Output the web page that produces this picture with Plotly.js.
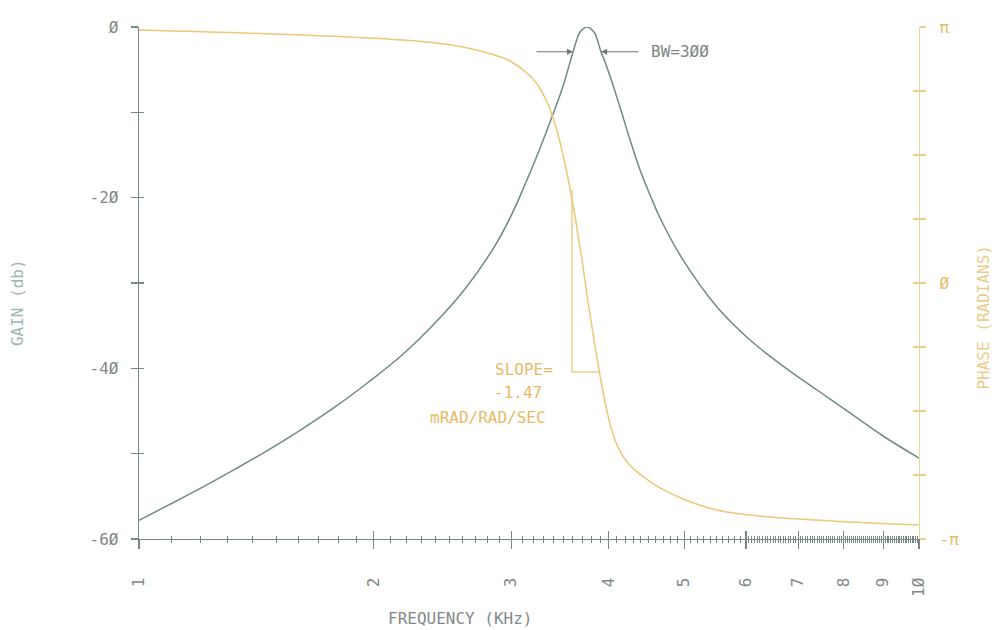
<!DOCTYPE html>
<html>
<head>
<meta charset="utf-8">
<script src="https://cdn.plot.ly/plotly-3.0.1.min.js"></script>
<style>html,body{margin:0;padding:0;background:#fff;}#chart{width:994px;height:630px;}</style>
</head>
<body>
<div id="chart"></div>
<script>
// ---- data ----
const gainFreq = [1.0, 1.089, 1.205, 1.328, 1.464, 1.618, 1.784, 1.966, 2.174, 2.396, 2.618, 2.843, 2.989, 3.144, 3.267, 3.395, 3.497, 3.601, 3.644, 3.677, 3.753, 3.831, 3.866, 3.912, 3.958, 4.04, 4.136, 4.262, 4.389, 4.521, 4.656, 4.983, 5.508, 6.073, 6.694, 7.402, 8.156, 8.993, 10.0];
const gainDb   = [-57.8, -56.06, -53.96, -51.82, -49.58, -47.11, -44.52, -41.66, -38.44, -34.69, -30.70, -26.02, -22.4, -17.9, -14.2, -10.20, -6.91, -2.93, -1.41, -0.59, 0.0, -0.59, -1.41, -2.93, -4.10, -6.45, -9.38, -13.24, -16.76, -19.69, -22.38, -27.30, -32.81, -36.68, -39.73, -42.54, -45.23, -47.93, -50.51];

const phaseFreq = [1.0, 1.618, 2.174, 2.432, 2.657, 2.843, 2.989, 3.144, 3.238, 3.335, 3.395, 3.465, 3.569, 3.677, 3.787, 3.899, 3.958, 4.017, 4.077, 4.136, 4.223, 4.350, 4.480, 4.656, 4.983, 5.508, 6.073, 6.694, 8.156, 10.0];
const phaseRad  = [3.105, 3.043, 2.982, 2.939, 2.878, 2.804, 2.724, 2.577, 2.442, 2.221, 2.025, 1.730, 1.166, 0.430, -0.392, -1.129, -1.460, -1.730, -1.926, -2.061, -2.196, -2.318, -2.411, -2.515, -2.650, -2.786, -2.847, -2.884, -2.933, -2.970];

// axis ticks
const xMajorTicks = [1, 2, 3, 4, 5, 6, 7, 8, 9, 10];
const xMajorText  = ['1', '2', '3', '4', '5', '6', '7', '8', '9', '1Ø'];
const xMinorStepLow = 0.1;   // 100 Hz steps below 6 kHz
const xMinorStepHigh = 0.05; // 50 Hz steps from 6 kHz
const gainTicks = [0, -10, -20, -30, -40, -50, -60];
const gainText  = ['Ø', '', '-2Ø', '', '-4Ø', '', '-6Ø'];
const phaseTicks = [Math.PI, 0.75*Math.PI, 0.5*Math.PI, 0.25*Math.PI, 0, -0.25*Math.PI, -0.5*Math.PI, -0.75*Math.PI, -Math.PI];
const phaseText  = ['π', '', '', '', 'Ø', '', '', '', '-π'];

// annotation values
const bwLow = 3.601, bwHigh = 3.912, bwLevel = -2.9;
const slopeF0 = 3.590, slopeF1 = 3.899, slopeTop = 1.141, slopeBottom = -1.092;

// ---- build minor ticks ----
const xMinorTicks = [];
for (let d = 1; d < 10; d++) {
  const step = d < 6 ? xMinorStepLow : xMinorStepHigh;
  const n = Math.round(1 / step);
  for (let k = 1; k < n; k++) xMinorTicks.push(+(d + k * step).toFixed(3));
}

const gray = 'rgb(118,136,132)';
const grayText = 'rgb(128,136,134)';
const yel = 'rgb(236,200,120)';
const yelText = 'rgb(232,186,100)';
const mono = 'DejaVu Sans Mono, monospace';

const traces = [
  {x: gainFreq, y: gainDb, xaxis: 'x', yaxis: 'y', mode: 'lines',
   line: {color: 'rgb(112,138,134)', width: 1.5, shape: 'spline', smoothing: 1.1}, hoverinfo: 'skip'},
  {x: phaseFreq, y: phaseRad, xaxis: 'x', yaxis: 'y2', mode: 'lines',
   line: {color: yel, width: 1.5, shape: 'spline', smoothing: 1.1}, hoverinfo: 'skip'},
  // carriers for the duplicate (inside-tick) axes so ticks cross the axis lines
  {x: [1], y: [-100], xaxis: 'x2', yaxis: 'y', mode: 'markers', marker: {opacity: 0}, hoverinfo: 'skip'},
  {x: [1], y: [-100], xaxis: 'x', yaxis: 'y3', mode: 'markers', marker: {opacity: 0}, hoverinfo: 'skip'},
  {x: [1], y: [-100], xaxis: 'x', yaxis: 'y4', mode: 'markers', marker: {opacity: 0}, hoverinfo: 'skip'}
];

const layout = {
  width: 994, height: 630,
  margin: {l: 139, r: 75, t: 27, b: 91, pad: 0},
  paper_bgcolor: '#fff', plot_bgcolor: '#fff',
  showlegend: false,
  xaxis: {
    type: 'log', range: [0, 1], showgrid: false, zeroline: false,
    showline: true, linecolor: gray, linewidth: 1.3,
    tickmode: 'array', tickvals: xMajorTicks, ticktext: xMajorText,
    ticks: 'outside', ticklen: 9, tickwidth: 1.2, tickcolor: gray,
    tickangle: -90, ticklabelstandoff: 22,
    tickfont: {family: mono, size: 16, color: grayText},
    minor: {tickmode: 'array', tickvals: xMinorTicks, ticks: 'outside', ticklen: 3, tickwidth: 1, tickcolor: gray, showgrid: false}
  },
  xaxis2: {
    type: 'log', range: [0, 1], overlaying: 'x', anchor: 'y', side: 'bottom',
    showgrid: false, zeroline: false, showline: false, showticklabels: false,
    tickmode: 'array', tickvals: xMajorTicks,
    ticks: 'inside', ticklen: 8, tickwidth: 1.2, tickcolor: gray,
    minor: {tickmode: 'array', tickvals: xMinorTicks, ticks: 'inside', ticklen: 3, tickwidth: 1, tickcolor: gray, showgrid: false}
  },
  yaxis: {
    range: [-60, 0], showgrid: false, zeroline: false,
    showline: true, linecolor: gray, linewidth: 1.3,
    tickmode: 'array', tickvals: gainTicks, ticktext: gainText,
    ticks: 'outside', ticklen: 7, tickwidth: 1.2, tickcolor: gray,
    ticklabelstandoff: 9,
    tickfont: {family: mono, size: 16, color: grayText}
  },
  yaxis3: {
    range: [-60, 0], overlaying: 'y', anchor: 'x', side: 'left',
    showgrid: false, zeroline: false, showline: false, showticklabels: false,
    tickmode: 'array', tickvals: gainTicks,
    ticks: 'inside', ticklen: 5, tickwidth: 1.2, tickcolor: gray
  },
  yaxis2: {
    range: [-Math.PI, Math.PI], overlaying: 'y', anchor: 'x', side: 'right',
    showgrid: false, zeroline: false,
    showline: true, linecolor: 'rgb(240,214,150)', linewidth: 1.3,
    tickmode: 'array', tickvals: phaseTicks, ticktext: phaseText,
    ticks: 'outside', ticklen: 6, tickwidth: 1.2, tickcolor: 'rgb(236,206,140)',
    ticklabelstandoff: 10,
    tickfont: {family: mono, size: 16, color: yelText}
  },
  yaxis4: {
    range: [-Math.PI, Math.PI], overlaying: 'y', anchor: 'x', side: 'right',
    showgrid: false, zeroline: false, showline: false, showticklabels: false,
    tickmode: 'array', tickvals: phaseTicks,
    ticks: 'inside', ticklen: 6, tickwidth: 1.2, tickcolor: 'rgb(236,206,140)'
  },
  shapes: [
    {type: 'line', xref: 'x', yref: 'y2', x0: slopeF0, x1: slopeF0, y0: slopeTop, y1: slopeBottom,
     line: {color: yel, width: 1.3}},
    {type: 'line', xref: 'x', yref: 'y2', x0: slopeF0, x1: slopeF1, y0: slopeBottom, y1: slopeBottom,
     line: {color: yel, width: 1.3}}
  ],
  annotations: [
    {xref: 'x', yref: 'y', x: Math.log10(bwLow), y: bwLevel, text: '', showarrow: true,
     ax: -38, ay: 0, arrowhead: 2, arrowsize: 1, arrowwidth: 1.2, arrowcolor: 'rgb(110,118,116)'},
    {xref: 'x', yref: 'y', x: Math.log10(bwHigh), y: bwLevel, text: '', showarrow: true,
     ax: 39, ay: 0, arrowhead: 2, arrowsize: 1, arrowwidth: 1.2, arrowcolor: 'rgb(110,118,116)'},
    {xref: 'x', yref: 'y', x: Math.log10(bwHigh) + 0.062, y: bwLevel, text: 'BW=3ØØ', showarrow: false,
     xanchor: 'left', yanchor: 'middle', font: {family: mono, size: 16, color: 'rgb(128,134,132)'}},
    {xref: 'x', yref: 'y', x: 0.4936, y: -40.1, text: 'SLOPE=', showarrow: false,
     xanchor: 'center', yanchor: 'middle', font: {family: mono, size: 16, color: yelText}},
    {xref: 'x', yref: 'y', x: 0.4853, y: -42.8, text: '-1.47', showarrow: false,
     xanchor: 'center', yanchor: 'middle', font: {family: mono, size: 16, color: yelText}},
    {xref: 'x', yref: 'y', x: 0.4468, y: -45.8, text: 'mRAD/RAD/SEC', showarrow: false,
     xanchor: 'center', yanchor: 'middle', font: {family: mono, size: 16, color: yelText}},
    {xref: 'paper', yref: 'paper', x: -0.155, y: 0.461, text: 'GAIN (db)', showarrow: false,
     textangle: -90, xanchor: 'center', yanchor: 'middle', font: {family: mono, size: 16, color: 'rgb(160,182,178)'}},
    {xref: 'paper', yref: 'paper', x: 1.083, y: 0.434, text: 'PHASE (RADIANS)', showarrow: false,
     textangle: -90, xanchor: 'center', yanchor: 'middle', font: {family: mono, size: 16, color: 'rgb(236,204,140)'}},
    {xref: 'paper', yref: 'paper', x: 0.4128, y: -0.156, text: 'FREQUENCY (KHz)', showarrow: false,
     xanchor: 'center', yanchor: 'middle', font: {family: mono, size: 16, color: 'rgb(130,138,136)'}}
  ]
};

Plotly.newPlot('chart', traces, layout, {staticPlot: true, displayModeBar: false});
</script>
</body>
</html>
